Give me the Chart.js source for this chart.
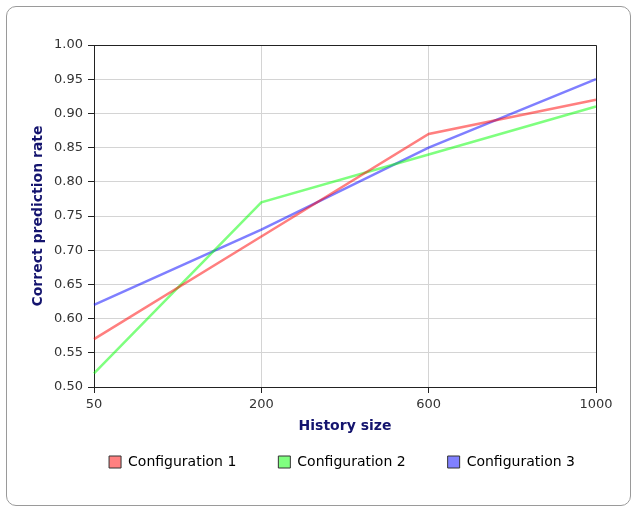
<!DOCTYPE html>
<html lang="en">
<head>
    <meta charset="UTF-8">
    <title>Correct prediction rate by history size</title>
    <script src="https://cdn.jsdelivr.net/npm/chart.js"></script>
    <style>
        body { margin: 0; background: #fff; }
        #wrap { position: relative; width: 636px; height: 509px; }
        #frame {
            position: absolute; left: 6px; top: 6px; width: 623px; height: 498px;
            border: 1px solid #9a9a9a; border-radius: 10px; pointer-events: none;
        }
    </style>
</head>
<body>
    <div id="wrap">
        <canvas id="myLineChart" width="636" height="509"></canvas>
        <div id="frame"></div>
    </div>

    <script>
        // data
        const historySizes = ["50", "200", "600", "1000"];
        const config1 = [0.57, 0.72, 0.87, 0.92];
        const config2 = [0.52, 0.77, 0.84, 0.91];
        const config3 = [0.62, 0.73, 0.85, 0.95];
        const seriesNames = ["Configuration 1", "Configuration 2", "Configuration 3"];
        const seriesColors = ["rgba(255,0,0,0.5)", "rgba(0,255,0,0.5)", "rgba(0,0,255,0.5)"];
        const legendFills = ["#ff8080", "#80ff80", "#8080ff"];

        const titleColor = "#14146e";
        Chart.defaults.font.family = "'DejaVu Sans', sans-serif";

        // top and right edges of the plot box
        const frameBox = {
            id: "frameBox",
            afterDraw(chart) {
                const { ctx, chartArea: a } = chart;
                ctx.save();
                ctx.strokeStyle = "#222";
                ctx.lineWidth = 1;
                ctx.beginPath();
                ctx.moveTo(a.left, a.top + 0.5);
                ctx.lineTo(a.right + 0.5, a.top + 0.5);
                ctx.lineTo(a.right + 0.5, a.bottom);
                ctx.stroke();
                ctx.restore();
            }
        };

        // slide the legend box so its row sits centred under the plot area
        const legendUnderPlot = {
            id: "legendUnderPlot",
            afterLayout(chart) {
                const lg = chart.legend;
                if (!lg) return;
                const a = chart.chartArea;
                const shift = (a.left + a.right) / 2 - (lg.left + lg.right) / 2 - 3;
                lg.left += shift;
                lg.right += shift;
            }
        };

        const datasets = [config1, config2, config3].map((vals, i) => ({
            label: seriesNames[i],
            data: vals,
            borderColor: seriesColors[i],
            backgroundColor: legendFills[i],
            borderWidth: 2.5,
            pointRadius: 0,
            fill: false,
            tension: 0
        }));

        new Chart(document.getElementById("myLineChart").getContext("2d"), {
            type: "line",
            data: { labels: historySizes, datasets: datasets },
            plugins: [frameBox, legendUnderPlot],
            options: {
                responsive: false,
                animation: false,
                layout: { padding: { left: 0, right: 40, top: 45, bottom: 30 } },
                plugins: {
                    tooltip: { enabled: false },
                    legend: {
                        position: "bottom",
                        labels: {
                            boxWidth: 12,
                            boxHeight: 12,
                            padding: 42,
                            color: "#333",
                            font: { size: 14 },
                            generateLabels(chart) {
                                return chart.data.datasets.map((ds, i) => ({
                                    text: ds.label,
                                    fillStyle: legendFills[i],
                                    strokeStyle: "#333",
                                    lineWidth: 1,
                                    datasetIndex: i
                                }));
                            }
                        }
                    }
                },
                scales: {
                    x: {
                        offset: false,
                        afterFit(scale) { scale.height = 26; },
                        grid: { color: "#d4d4d4", tickColor: "#222", tickLength: 6 },
                        border: { color: "#222", width: 1 },
                        ticks: { color: "#333", font: { size: 13 }, padding: 4, maxRotation: 0 },
                        title: {
                            display: true, text: "History size", color: titleColor,
                            font: { size: 14, weight: "bold" }, padding: { top: 0, bottom: -22 }
                        }
                    },
                    y: {
                        min: 0.5,
                        max: 1.0,
                        afterFit(scale) { scale.width = 94; },
                        grid: { color: "#d4d4d4", tickColor: "#222", tickLength: 6 },
                        border: { color: "#222", width: 1 },
                        ticks: {
                            stepSize: 0.05, color: "#333", font: { size: 13 }, padding: 5,
                            callback: v => v.toFixed(2)
                        },
                        title: {
                            display: true, text: "Correct prediction rate", color: titleColor,
                            font: { size: 14, weight: "bold" }, padding: { top: 30, bottom: 0 }
                        }
                    }
                }
            }
        });
    </script>
</body>
</html>
